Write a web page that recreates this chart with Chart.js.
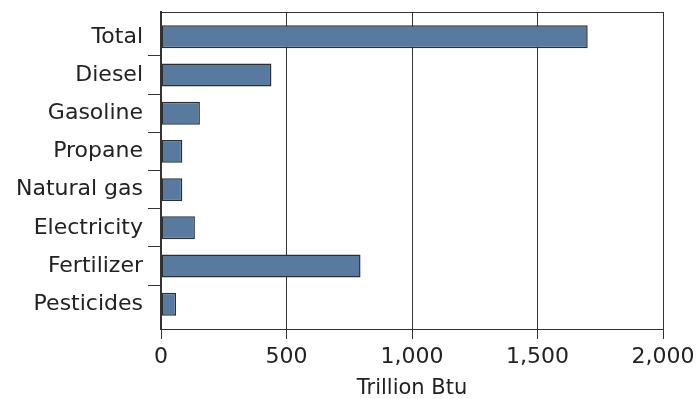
<!DOCTYPE html>
<html>
<head>
<meta charset="utf-8">
<script src="https://cdn.jsdelivr.net/npm/chart.js@4/dist/chart.umd.min.js"></script>
<style>
  html, body { margin: 0; padding: 0; background: #fff; }
  #wrap { width: 696px; height: 399px; }
</style>
</head>
<body>
<div id="wrap"><canvas id="c" width="696" height="399"></canvas></div>
<script>
// energy use by input, trillion Btu
const categories = ['Total', 'Diesel', 'Gasoline', 'Propane', 'Natural gas', 'Electricity', 'Fertilizer', 'Pesticides'];
const energyUse = [1700, 440, 155, 85, 85, 135, 795, 60];
const xTicks = [0, 500, 1000, 1500, 2000];
const axisTitle = 'Trillion Btu';

const font = 'DejaVu Sans';
const ink = '#333';
const clear = 'rgba(0,0,0,0)';

Chart.defaults.font.family = font;
Chart.defaults.color = '#222';

new Chart(document.getElementById('c'), {
  type: 'bar',
  data: {
    labels: categories,
    datasets: [{
      data: energyUse,
      backgroundColor: '#587a9e',
      borderColor: '#2a2f36',
      borderWidth: 1.5,
      borderSkipped: false,
      categoryPercentage: 1,
      barPercentage: 0.6
    }]
  },
  options: {
    indexAxis: 'y',
    responsive: false,
    animation: false,
    layout: { padding: { top: 12, right: 0, left: 0, bottom: 0 } },
    plugins: {
      legend: { display: false },
      tooltip: { enabled: false }
    },
    scales: {
      x: {
        min: xTicks[0],
        max: xTicks[xTicks.length - 1],
        afterBuildTicks: (scale) => {
          scale.ticks = xTicks.map((v) => ({ value: v }));
        },
        afterFit: (scale) => {
          scale.height = 70;
          scale.paddingRight = 33;
          scale.paddingLeft = 0;
        },
        grid: {
          color: ink,
          tickColor: ink,
          lineWidth: 1,
          tickLength: 10
        },
        border: { display: true, color: ink, width: 1 },
        ticks: {
          padding: 5,
          font: { size: 22 },
          callback: (v) => v.toLocaleString('en-US')
        },
        title: {
          display: true,
          text: axisTitle,
          font: { size: 21 },
          padding: { top: 0, bottom: -2 }
        }
      },
      // top edge of the plot frame
      xTop: {
        position: 'top',
        min: xTicks[0],
        max: xTicks[xTicks.length - 1],
        grid: { display: false, drawTicks: false },
        ticks: { display: false },
        border: { display: true, color: ink, width: 1 },
        afterFit: (scale) => { scale.height = 0; }
      },
      y: {
        // a little air above the first and below the last bar
        afterBuildTicks: (scale) => {
          scale._startValue -= 0.15;
          scale._valueRange += 0.3;
        },
        afterFit: (scale) => {
          scale.width = 161;
          scale.paddingTop = 0;
          scale.paddingBottom = 0;
        },
        grid: {
          offset: true,
          drawOnChartArea: false,
          tickColor: (c) => (c.index >= 1 ? ink : clear),
          tickLength: 13,
          lineWidth: 1
        },
        border: { display: true, color: ink, width: 2 },
        ticks: {
          padding: 5,
          font: { size: 22 }
        }
      }
    }
  }
});
</script>
</body>
</html>
